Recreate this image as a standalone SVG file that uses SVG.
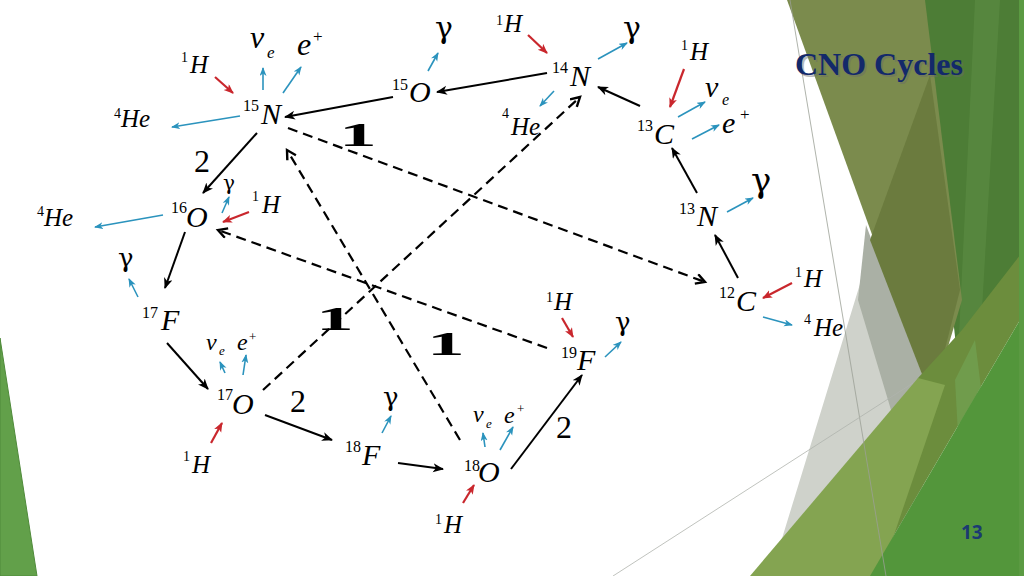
<svg xmlns="http://www.w3.org/2000/svg" width="1024" height="576" viewBox="0 0 1024 576">
<style>
.m{font-family:"Liberation Serif",serif;font-style:italic;fill:#000}
.s{font-family:"Liberation Serif",serif;fill:#000}
.g{font-family:"DejaVu Serif","Liberation Serif",serif;fill:#000}
.b1{font-family:"Liberation Serif",serif;font-weight:bold;fill:#000}
.k{stroke:#000;stroke-width:2;fill:none}
.d{stroke:#000;stroke-width:2.2;fill:none;stroke-dasharray:10 6}
.bl{stroke:#2b93bd;stroke-width:1.6;fill:none}
.rd{stroke:#c9272d;stroke-width:2.2;fill:none}
</style>
<defs>
<marker id="mk" markerUnits="userSpaceOnUse" markerWidth="12" markerHeight="10" refX="10" refY="4.5" orient="auto"><path d="M0,0 L11,4.5 L0,9 L3,4.5z" fill="#000"/></marker>
<marker id="mb" markerUnits="userSpaceOnUse" markerWidth="10" markerHeight="8" refX="8" refY="3.5" orient="auto"><path d="M0,0 L9,3.5 L0,7 L2.5,3.5z" fill="#2b93bd"/></marker>
<marker id="mr" markerUnits="userSpaceOnUse" markerWidth="11" markerHeight="9" refX="9" refY="4" orient="auto"><path d="M0,0 L10,4 L0,8 L2.5,4z" fill="#c9272d"/></marker>
<marker id="md" markerUnits="userSpaceOnUse" markerWidth="14" markerHeight="14" refX="10" refY="6" orient="auto"><path d="M1,1 L10,6 L1,11" fill="none" stroke="#000" stroke-width="2.4"/></marker>
</defs>
<rect width="1024" height="576" fill="#fff"/>
<g id="decor">
<polygon points="800,30 875,235 780,545 760,576 900,576 945,395" fill="#cfd2cb"/>
<polygon points="866,225 932,400 900,440 858,300" fill="#aab0a5"/>
<polygon points="918,0 1024,0 1024,313 962,400" fill="#4d7d36"/>
<polygon points="975,0 1000,0 975,430 955,420" fill="#5a8a42" opacity="0.7"/>
<polygon points="787,0 925,0 962,300 932,400" fill="#7b8b4d"/>
<polygon points="930,75 960,290 932,400 870,240" fill="#6b7b3e"/>
<polygon points="918,378 962,330 1024,250 1024,313 870,576" fill="#6c8d3d"/>
<polygon points="955,380 975,340 985,420 960,470" fill="#72a352" opacity="0.7"/>
<polygon points="750,576 918,378 945,385 880,576" fill="#84a451"/>
<polygon points="870,576 1024,313 1024,576" fill="#53963b"/>
<polygon points="1019,0 1024,0 1024,576 1019,576" fill="#5b9a42"/>
<line x1="790" y1="0" x2="886" y2="576" stroke="#9aa095" stroke-width="0.8"/>
<line x1="613" y1="576" x2="913" y2="383" stroke="#b0b4ad" stroke-width="0.8"/>
<polygon points="0,338 37,576 0,576" fill="#62a04a" stroke="#4f8a3a" stroke-width="1"/>
<text x="797" y="77" font-family="Liberation Serif,serif" font-weight="bold" font-size="32" fill="#6b6b6b" opacity="0.45">CNO Cycles</text>
<text x="795" y="75" font-family="Liberation Serif,serif" font-weight="bold" font-size="32" fill="#13296a">CNO Cycles</text>
<text x="961" y="539" font-family="Open Sans,Liberation Sans,sans-serif" font-weight="bold" font-size="19" fill="#1b3a72">13</text>
</g>
<g id="connectors">
<line class="k" x1="393" y1="97" x2="285" y2="117" marker-end="url(#mk)"/>
<line class="k" x1="547" y1="73" x2="437" y2="92" marker-end="url(#mk)"/>
<line class="k" x1="640" y1="106" x2="598" y2="87" marker-end="url(#mk)"/>
<line class="k" x1="697" y1="193" x2="672" y2="148" marker-end="url(#mk)"/>
<line class="k" x1="738" y1="278" x2="715" y2="235" marker-end="url(#mk)"/>
<line class="k" x1="257" y1="133" x2="203" y2="193" marker-end="url(#mk)"/>
<line class="k" x1="185" y1="232" x2="165" y2="288" marker-end="url(#mk)"/>
<line class="k" x1="167" y1="343" x2="208" y2="389" marker-end="url(#mk)"/>
<line class="k" x1="265" y1="415" x2="332" y2="440" marker-end="url(#mk)"/>
<line class="k" x1="398" y1="463" x2="443" y2="469" marker-end="url(#mk)"/>
<line class="k" x1="511" y1="469" x2="582" y2="375" marker-end="url(#mk)"/>
<line class="d" x1="288" y1="128" x2="705" y2="282" marker-end="url(#md)"/>
<line class="d" x1="263" y1="390" x2="580" y2="97" marker-end="url(#md)"/>
<line class="d" x1="460" y1="440" x2="287" y2="150" marker-end="url(#md)"/>
<line class="d" x1="547" y1="348" x2="218" y2="230" marker-end="url(#md)"/>
<line class="bl" x1="263" y1="90" x2="263" y2="68" marker-end="url(#mb)"/>
<line class="bl" x1="283" y1="93" x2="301" y2="67" marker-end="url(#mb)"/>
<line class="bl" x1="240" y1="116" x2="172" y2="127" marker-end="url(#mb)"/>
<line class="bl" x1="222" y1="213" x2="229" y2="197" marker-end="url(#mb)"/>
<line class="bl" x1="163" y1="215" x2="95" y2="227" marker-end="url(#mb)"/>
<line class="bl" x1="138" y1="297" x2="129" y2="279" marker-end="url(#mb)"/>
<line class="bl" x1="225" y1="373" x2="220" y2="362" marker-end="url(#mb)"/>
<line class="bl" x1="243" y1="375" x2="246" y2="355" marker-end="url(#mb)"/>
<line class="bl" x1="382" y1="433" x2="391" y2="416" marker-end="url(#mb)"/>
<line class="bl" x1="485" y1="447" x2="483" y2="433" marker-end="url(#mb)"/>
<line class="bl" x1="500" y1="450" x2="513" y2="427" marker-end="url(#mb)"/>
<line class="bl" x1="605" y1="357" x2="621" y2="342" marker-end="url(#mb)"/>
<line class="bl" x1="428" y1="71" x2="438" y2="53" marker-end="url(#mb)"/>
<line class="bl" x1="598" y1="59" x2="627" y2="43" marker-end="url(#mb)"/>
<line class="bl" x1="554" y1="91" x2="540" y2="106" marker-end="url(#mb)"/>
<line class="bl" x1="678" y1="117" x2="705" y2="102" marker-end="url(#mb)"/>
<line class="bl" x1="692" y1="139" x2="719" y2="125" marker-end="url(#mb)"/>
<line class="bl" x1="727" y1="212" x2="753" y2="198" marker-end="url(#mb)"/>
<line class="bl" x1="763" y1="317" x2="792" y2="325" marker-end="url(#mb)"/>
<line class="rd" x1="215" y1="77" x2="233" y2="93" marker-end="url(#mr)"/>
<line class="rd" x1="249" y1="212" x2="223" y2="222" marker-end="url(#mr)"/>
<line class="rd" x1="211" y1="443" x2="222" y2="423" marker-end="url(#mr)"/>
<line class="rd" x1="463" y1="503" x2="474" y2="485" marker-end="url(#mr)"/>
<line class="rd" x1="562" y1="318" x2="573" y2="337" marker-end="url(#mr)"/>
<line class="rd" x1="528" y1="35" x2="547" y2="53" marker-end="url(#mr)"/>
<line class="rd" x1="684" y1="69" x2="670" y2="107" marker-end="url(#mr)"/>
<line class="rd" x1="792" y1="283" x2="763" y2="298" marker-end="url(#mr)"/>
</g>
<g id="labels">
<text class="s" x="194" y="172" font-size="32">2</text>
<text class="s" x="290" y="412" font-size="32">2</text>
<text class="s" x="556" y="438" font-size="32">2</text>
<text class="b1" font-size="34" text-anchor="middle" transform="translate(358,146) scale(2.2,1)">1</text>
<text class="b1" font-size="34" text-anchor="middle" transform="translate(335,330) scale(2.2,1)">1</text>
<text class="b1" font-size="34" text-anchor="middle" transform="translate(446,355) scale(2.2,1)">1</text>
</g>
<g id="n15N"><text class="s" x="243" y="111" font-size="16">15</text><text class="m" x="261" y="124" font-size="30">N</text>
<text class="s" x="181" y="62" font-size="14">1</text><text class="m" x="190" y="73" font-size="25">H</text>
<text class="s" x="114" y="118" font-size="14">4</text><text class="m" x="121" y="127" font-size="25">He</text>
<text class="m" x="250" y="48" font-size="32">ν</text><text class="m" x="267" y="58" font-size="17">e</text>
<text class="m" x="297" y="55" font-size="32">e</text><text class="s" x="313" y="42" font-size="17">+</text></g>
<g id="n16O"><text class="s" x="171" y="213" font-size="16">16</text><text class="m" x="186" y="227" font-size="30">O</text>
<text class="g" x="223" y="190" font-size="20">γ</text>
<text class="s" x="252" y="201" font-size="14">1</text><text class="m" x="262" y="213" font-size="25">H</text>
<text class="s" x="37" y="216" font-size="14">4</text><text class="m" x="44" y="226" font-size="25">He</text></g>
<g id="n17F"><text class="s" x="142" y="318" font-size="16">17</text><text class="m" x="161" y="330" font-size="30">F</text>
<text class="g" x="118" y="267" font-size="26">γ</text></g>
<g id="n17O"><text class="s" x="217" y="400" font-size="16">17</text><text class="m" x="232" y="414" font-size="30">O</text>
<text class="m" x="206" y="350" font-size="24">ν</text><text class="m" x="219" y="355" font-size="13">e</text>
<text class="m" x="237" y="350" font-size="24">e</text><text class="s" x="249" y="341" font-size="13">+</text>
<text class="s" x="183" y="461" font-size="14">1</text><text class="m" x="192" y="473" font-size="25">H</text></g>
<g id="n18F"><text class="s" x="345" y="452" font-size="16">18</text><text class="m" x="362" y="465" font-size="30">F</text>
<text class="g" x="383" y="406" font-size="26">γ</text></g>
<g id="n18O"><text class="s" x="464" y="471" font-size="16">18</text><text class="m" x="478" y="482" font-size="30">O</text>
<text class="m" x="473" y="422" font-size="24">ν</text><text class="m" x="486" y="428" font-size="13">e</text>
<text class="m" x="504" y="423" font-size="24">e</text><text class="s" x="517" y="413" font-size="13">+</text>
<text class="s" x="435" y="524" font-size="14">1</text><text class="m" x="444" y="533" font-size="25">H</text></g>
<g id="n19F"><text class="s" x="561" y="358" font-size="16">19</text><text class="m" x="577" y="370" font-size="30">F</text>
<text class="s" x="546" y="302" font-size="14">1</text><text class="m" x="554" y="310" font-size="25">H</text>
<text class="g" x="615" y="331" font-size="26">γ</text></g>
<g id="n15O"><text class="s" x="392" y="90" font-size="16">15</text><text class="m" x="409" y="102" font-size="30">O</text>
<text class="g" x="435" y="38" font-size="30">γ</text></g>
<g id="n14N"><text class="s" x="552" y="73" font-size="16">14</text><text class="m" x="570" y="86" font-size="30">N</text>
<text class="s" x="496" y="25" font-size="14">1</text><text class="m" x="504" y="32" font-size="25">H</text>
<text class="g" x="623" y="38" font-size="30">γ</text>
<text class="s" x="502" y="118" font-size="14">4</text><text class="m" x="511" y="135" font-size="25">He</text></g>
<g id="n13C"><text class="s" x="637" y="131" font-size="16">13</text><text class="m" x="654" y="144" font-size="30">C</text>
<text class="s" x="681" y="50" font-size="14">1</text><text class="m" x="690" y="60" font-size="25">H</text>
<text class="m" x="705" y="97" font-size="30">ν</text><text class="m" x="722" y="105" font-size="16">e</text>
<text class="m" x="722" y="133" font-size="30">e</text><text class="s" x="740" y="120" font-size="17">+</text></g>
<g id="n13N"><text class="s" x="679" y="214" font-size="16">13</text><text class="m" x="697" y="226" font-size="30">N</text>
<text class="g" x="751" y="192" font-size="34">γ</text></g>
<g id="n12C"><text class="s" x="719" y="298" font-size="16">12</text><text class="m" x="736" y="311" font-size="30">C</text>
<text class="s" x="795" y="277" font-size="14">1</text><text class="m" x="804" y="287" font-size="25">H</text>
<text class="s" x="804" y="324" font-size="14">4</text><text class="m" x="814" y="336" font-size="25">He</text></g>
</svg>
